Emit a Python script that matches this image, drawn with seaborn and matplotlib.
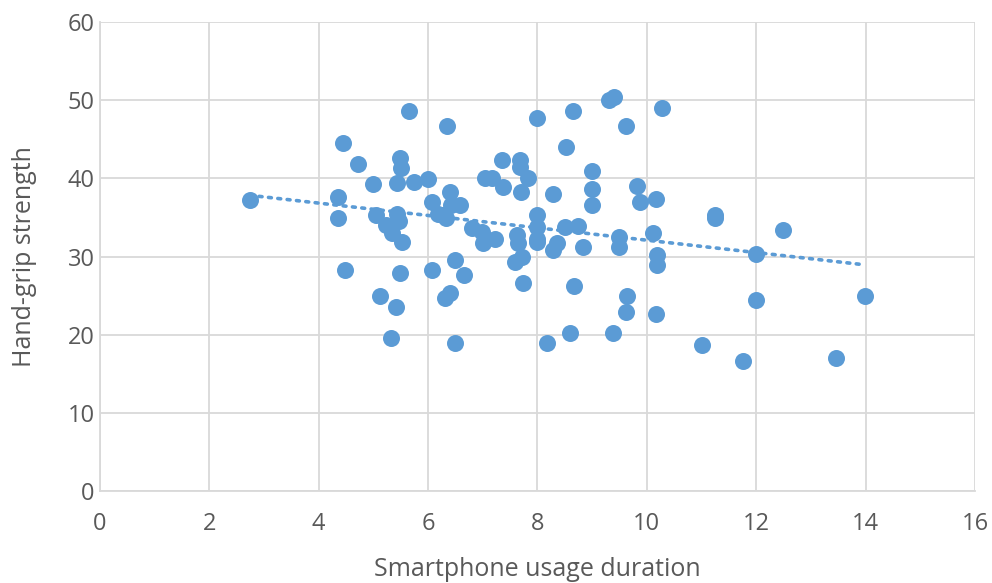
import matplotlib
matplotlib.use('Agg')
import matplotlib.pyplot as plt
import seaborn as sns
import pandas as pd

# valores
usage = [2.74, 4.44, 4.72, 5.0, 4.35, 4.35, 4.48, 5.05, 5.23, 5.34,
         5.43, 5.48, 5.5, 5.43, 5.47, 5.52, 5.48, 5.12, 5.41, 5.32,
         5.65, 5.74, 6.0, 6.07, 6.07, 6.18, 6.33, 6.4, 6.34, 6.42,
         6.58, 6.31, 6.4, 6.49, 6.65, 6.49, 6.27,
         8.0, 8.65, 9.3, 9.4, 10.27, 9.62, 8.52, 7.35, 7.68,
         7.68, 7.82, 7.04, 7.17, 7.37, 7.7, 8.28, 8.99, 8.99, 8.99,
         9.82, 9.87, 10.16, 11.24, 11.24, 7.99, 7.99, 6.8, 6.98, 7.0,
         7.22, 7.62, 7.64, 7.99, 7.99, 8.5, 8.74, 8.35, 8.28, 8.83,
         9.49, 9.49, 10.11, 10.18, 10.18, 7.59, 7.71, 7.73, 8.67, 9.63,
         9.62, 10.16, 8.59, 9.38, 8.17, 11.0,
         12.0, 12.0, 12.49, 11.76, 13.46, 13.99]
grip = [37.2, 44.5, 41.9, 39.3, 37.6, 34.9, 28.3, 35.3, 34.0, 33.0,
        39.4, 42.6, 41.3, 35.5, 34.5, 31.8, 27.9, 24.9, 23.5, 19.6,
        48.6, 39.6, 39.9, 37.0, 28.3, 35.5, 34.9, 38.3, 46.7, 36.6,
        36.6, 24.7, 25.3, 29.5, 27.6, 18.9, 35.3,
        47.7, 48.6, 50.0, 50.4, 49.0, 46.7, 44.0, 42.3, 42.3,
        41.4, 40.0, 40.0, 40.0, 38.9, 38.2, 38.0, 40.9, 38.7, 36.6,
        39.0, 37.0, 37.3, 35.3, 34.9, 35.3, 33.8, 33.6, 33.1, 31.7,
        32.3, 32.7, 31.7, 32.3, 31.8, 33.8, 33.9, 31.7, 30.8, 31.2,
        32.5, 31.2, 33.0, 30.2, 28.9, 29.3, 29.9, 26.6, 26.2, 24.9,
        22.9, 22.6, 20.2, 20.2, 18.9, 18.7,
        30.3, 24.4, 33.4, 16.6, 17.0, 24.9]

df = pd.DataFrame({'usage': usage, 'grip': grip})
cor = '#5B9BD5'

sns.set_style('white')
plt.rcParams['font.family'] = ['Open Sans', 'DejaVu Sans']

fig = plt.figure(figsize=(9.92, 5.83), dpi=100)
ax = fig.add_axes([0.1008, 0.158, 0.882, 0.804])

sns.regplot(x='usage', y='grip', data=df, ci=None, ax=ax,
            scatter_kws={'s': 150, 'color': cor, 'alpha': 1, 'linewidths': 0, 'zorder': 3},
            line_kws={'color': cor, 'ls': (0, (0.8, 1.8)), 'lw': 2.6,
                      'dash_capstyle': 'round', 'zorder': 2})

ax.set_xlim(0, 16)
ax.set_ylim(0, 60)
ax.set_xticks(range(0, 17, 2))
ax.set_yticks(range(0, 61, 10))
ax.grid(True, color='#D9D9D9', lw=1.3)
ax.set_axisbelow(True)
for s in ['top', 'right']:
    ax.spines[s].set_visible(False)
for s in ['left', 'bottom']:
    ax.spines[s].set_color('#D9D9D9')
    ax.spines[s].set_linewidth(1.3)
ax.tick_params(length=0, labelsize=17, colors='#595959')
ax.tick_params(axis='x', pad=15)
ax.tick_params(axis='y', pad=4)
ax.set_xlabel('Smartphone usage duration', fontsize=18, color='#595959')
ax.set_ylabel('Hand-grip strength', fontsize=18, color='#595959')
ax.xaxis.set_label_coords(0.5, -0.142)
ax.yaxis.set_label_coords(-0.072, 0.5)

fig.savefig('out.png', dpi=100)
